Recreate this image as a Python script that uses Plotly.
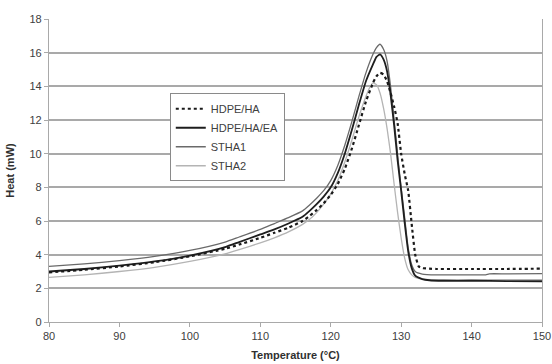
import plotly.graph_objects as go

# ---- data ----
t_hdpe_ha = [80, 85, 90, 95, 100, 105, 107, 110, 112, 114, 116, 117, 118, 119, 120, 121, 122, 123, 124, 125, 126, 126.5, 127,
             127.5, 128, 128.5, 129, 129.5, 130, 130.5, 131, 131.5, 132, 132.5, 133, 134, 135, 140, 145, 150]
v_hdpe_ha = [2.95, 3.1, 3.3, 3.55, 3.9, 4.35, 4.6, 5.0, 5.3, 5.6, 6.0, 6.3, 6.65, 7.05, 7.55, 8.2, 9.1, 10.3, 11.7, 13.1, 14.2, 14.6, 14.8,
             14.7, 14.3, 13.6, 12.8, 11.8, 10.0, 8.8, 7.8, 5.8, 4.0, 3.3, 3.2, 3.17, 3.15, 3.15, 3.15, 3.17]

t_hdpe_ha_ea = [80, 85, 90, 95, 100, 105, 107, 110, 112, 114, 116, 117, 118, 119, 120, 121, 122, 123, 124, 125, 126, 126.5, 127,
                127.5, 128, 128.5, 129, 129.5, 130, 130.5, 131, 131.5, 132, 133, 134, 136, 140, 145, 150]
v_hdpe_ha_ea = [3.0, 3.15, 3.35, 3.6, 3.95, 4.45, 4.75, 5.2, 5.5, 5.85, 6.25, 6.6, 7.0, 7.45, 8.0, 8.85, 10.0, 11.4, 12.9, 14.3, 15.3, 15.75, 15.9,
                15.6, 14.9, 13.5, 11.7, 9.6, 7.8, 5.9, 4.2, 3.2, 2.75, 2.55, 2.48, 2.45, 2.45, 2.43, 2.42]

t_stha1 = [80, 85, 90, 95, 100, 105, 107, 110, 112, 114, 116, 117, 118, 119, 120, 121, 122, 123, 124, 125, 126, 126.5, 127,
           127.5, 128, 128.5, 129, 129.3, 129.6, 130, 130.5, 131, 131.5, 132, 133, 135, 140, 142, 142.5, 145, 150]
v_stha1 = [3.3, 3.45, 3.65, 3.9, 4.25, 4.75, 5.05, 5.5, 5.85, 6.2, 6.6, 6.95, 7.35, 7.8, 8.4, 9.3, 10.5, 11.9, 13.4, 14.8, 15.9, 16.3, 16.5,
           16.2, 15.5, 14.0, 12.0, 10.8, 9.5, 8.0, 6.2, 4.4, 3.4, 3.0, 2.85, 2.8, 2.8, 2.8, 2.86, 2.86, 2.87]

t_stha2 = [80, 85, 90, 95, 100, 105, 107, 110, 112, 114, 116, 117, 118, 119, 120, 121, 122, 123, 124, 125, 125.5, 126, 126.5,
           127, 127.5, 128, 128.5, 129, 129.5, 130, 130.5, 131, 131.5, 132, 133, 135, 140, 145, 150]
v_stha2 = [2.65, 2.8, 3.0, 3.25, 3.6, 4.05, 4.3, 4.7, 5.0, 5.35, 5.8, 6.1, 6.5, 7.0, 7.6, 8.4, 9.5, 10.8, 12.2, 13.4, 13.9, 14.2, 14.1,
           13.6, 12.7, 11.5, 10.0, 8.2, 6.5, 5.0, 3.8, 3.1, 2.8, 2.65, 2.55, 2.52, 2.52, 2.52, 2.52]

x_ticks = [80, 90, 100, 110, 120, 130, 140, 150]
y_ticks = [0, 2, 4, 6, 8, 10, 12, 14, 16, 18]

FONT = "Liberation Sans, Arial, sans-serif"
GRID = "#a9a9a9"

fig = go.Figure()
fig.add_trace(go.Scatter(x=t_stha2, y=v_stha2, mode="lines", name="STHA2",
                         line=dict(color="#b4b4b4", width=1.3, shape="spline", smoothing=0.5)))
fig.add_trace(go.Scatter(x=t_stha1, y=v_stha1, mode="lines", name="STHA1",
                         line=dict(color="#6a6a6a", width=1.3, shape="spline", smoothing=0.5)))
fig.add_trace(go.Scatter(x=t_hdpe_ha_ea, y=v_hdpe_ha_ea, mode="lines", name="HDPE/HA/EA",
                         line=dict(color="#1e1e1e", width=1.8, shape="spline", smoothing=0.5)))
fig.add_trace(go.Scatter(x=t_hdpe_ha, y=v_hdpe_ha, mode="lines", name="HDPE/HA",
                         line=dict(color="#1a1a1a", width=2.2, dash="dot", shape="spline", smoothing=0.5)))

fig.update_layout(
    width=552, height=364,
    margin=dict(l=49, r=10, t=19, b=42),
    paper_bgcolor="white", plot_bgcolor="white",
    font=dict(family=FONT, size=10, color="#404040"),
    showlegend=True,
    legend=dict(x=0.245, y=0.755, xanchor="left", yanchor="top",
                bordercolor="#8a8a8a", borderwidth=1, bgcolor="white",
                traceorder="reversed",
                font=dict(family=FONT, size=11, color="#404040"),
                tracegroupgap=0),
    xaxis=dict(range=[80, 150], tickvals=x_ticks, ticktext=[str(v) for v in x_ticks],
               showgrid=False, zeroline=False, automargin=False,
               showline=True, linecolor=GRID, linewidth=1.2, mirror=False,
               ticks="outside", ticklen=4, tickcolor=GRID, tickwidth=1,
               tickfont=dict(family=FONT, size=11, color="#404040"),
               title=dict(text="<b>Temperature (°C)</b>", standoff=10,
                          font=dict(family=FONT, size=11, color="#303030"))),
    yaxis=dict(range=[0, 18], tickvals=y_ticks, ticktext=[str(v) for v in y_ticks],
               showgrid=True, gridcolor=GRID, gridwidth=1.5, zeroline=False, automargin=False,
               showline=True, linecolor=GRID, linewidth=1.2, mirror=True,
               ticks="outside", ticklen=4, tickcolor=GRID, tickwidth=1,
               tickfont=dict(family=FONT, size=11, color="#404040"),
               title=dict(text="<b>Heat (mW)</b>", standoff=12,
                          font=dict(family=FONT, size=11, color="#303030"))),
)

fig.write_html("out.html")
